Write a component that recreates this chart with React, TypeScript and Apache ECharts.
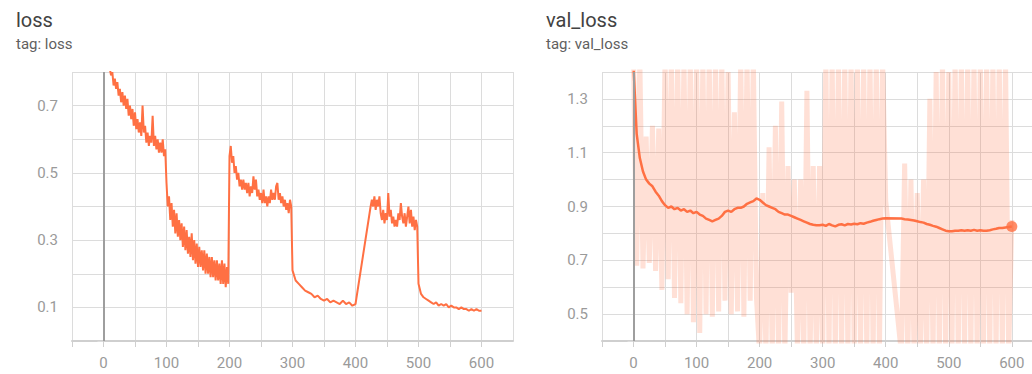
import React, { useEffect, useRef } from "react";
import * as echarts from "echarts";

// x positions (training steps) of each recorded segment
function range(start: number, end: number, step: number): number[] {
  const out: number[] = [];
  for (let s = start; s <= end; s += step) out.push(s);
  return out;
}

const lossSteps: number[] = [
  ...range(0, 98, 2),
  ...range(100, 198, 2),
  ...range(200, 298, 2),
  ...range(300, 400, 5),
  ...range(424, 498, 2),
  ...range(500, 600, 4),
];

const lossValues: number[] = [
  // 0-98
  0.96,0.93,0.90,0.88,0.84,0.81,0.79,0.80,0.76,0.78,0.75,0.77,0.73,0.75,0.71,0.74,0.70,0.73,0.69,0.72,
  0.67,0.70,0.66,0.69,0.64,0.68,0.63,0.66,0.62,0.65,0.61,0.70,0.62,0.64,0.59,0.62,0.58,0.61,0.59,0.67,
  0.58,0.61,0.57,0.60,0.56,0.59,0.56,0.60,0.55,0.57,
  // 100-198
  0.47,0.40,0.43,0.36,0.41,0.34,0.39,0.32,0.38,0.31,0.36,0.30,0.35,0.28,0.34,0.27,0.33,0.26,0.31,0.25,
  0.32,0.24,0.30,0.23,0.29,0.22,0.28,0.22,0.27,0.21,0.27,0.20,0.26,0.20,0.25,0.19,0.25,0.19,0.24,0.18,
  0.24,0.18,0.23,0.17,0.24,0.17,0.23,0.16,0.22,0.17,
  // 200-298
  0.55,0.58,0.53,0.55,0.50,0.52,0.48,0.50,0.46,0.48,0.45,0.48,0.45,0.47,0.44,0.47,0.43,0.46,0.44,0.49,
  0.45,0.48,0.43,0.45,0.42,0.44,0.41,0.45,0.41,0.43,0.40,0.43,0.41,0.45,0.42,0.44,0.42,0.46,0.47,0.42,
  0.44,0.41,0.43,0.40,0.42,0.39,0.41,0.38,0.42,0.40,
  // 300-400
  0.21,0.18,0.17,0.16,0.15,0.145,0.14,0.13,0.135,0.125,0.12,0.125,0.115,0.12,0.115,0.11,0.12,0.11,0.115,0.105,0.11,
  // 424-498
  0.40,0.42,0.40,0.43,0.39,0.42,0.40,0.43,0.38,0.36,0.39,0.35,0.38,0.36,0.44,0.37,0.39,0.35,0.37,0.34,
  0.36,0.34,0.38,0.36,0.41,0.37,0.35,0.38,0.34,0.37,0.40,0.35,0.39,0.34,0.37,0.33,0.36,0.34,
  // 500-600
  0.17,0.14,0.13,0.125,0.12,0.115,0.11,0.115,0.105,0.11,0.105,0.11,0.10,0.105,0.10,0.10,0.095,0.10,0.095,0.095,
  0.09,0.095,0.09,0.095,0.09,0.09
];

const valSteps: number[] = [...range(0, 400, 5), ...range(425, 600, 5)];

const valLossRaw: number[] = [
  // 0-195
  1.45,0.68,1.45,0.67,1.16,0.69,1.20,0.66,1.19,0.59,1.45,0.63,1.45,0.56,1.45,0.54,1.45,0.50,1.45,0.47,
  1.45,0.43,1.45,0.50,1.45,0.49,1.45,0.51,1.45,0.55,1.40,0.50,1.25,0.51,1.45,0.49,1.45,0.55,1.45,0.56,
  // 200-400
  0.35,0.95,0.35,1.12,0.35,1.20,0.35,1.29,0.35,1.05,0.58,1.00,0.35,1.00,0.35,1.33,0.35,1.05,0.35,1.05,
  0.35,1.45,0.35,1.45,0.35,1.45,0.35,1.45,0.35,1.45,0.35,1.45,0.35,1.45,0.35,1.45,0.35,1.45,0.35,1.45,0.92,
  // 425-600
  0.35,1.06,0.35,1.00,0.35,0.95,0.35,1.00,0.35,1.30,0.35,1.40,0.35,1.45,0.35,1.40,0.35,1.45,0.35,1.45,
  0.35,1.45,0.35,1.45,0.35,1.45,0.35,1.45,0.35,1.45,0.35,1.45,0.35,1.45,0.35,0.85
];

const valLossSmoothed: number[] = [
  1.42,1.17,1.08,1.03,1.00,0.985,0.975,0.955,0.94,0.92,0.905,0.895,0.90,0.89,0.895,0.885,0.89,0.88,0.885,0.875,
  0.88,0.87,0.865,0.855,0.85,0.845,0.85,0.855,0.865,0.88,0.885,0.88,0.89,0.895,0.895,0.90,0.91,0.915,0.92,0.93,
  0.925,0.915,0.905,0.90,0.895,0.89,0.88,0.875,0.87,0.87,0.865,0.86,0.855,0.85,0.845,0.84,0.835,0.832,0.83,0.83,
  0.832,0.828,0.835,0.83,0.826,0.832,0.834,0.83,0.835,0.833,0.836,0.834,0.838,0.836,0.84,0.843,0.847,0.85,0.853,0.855,0.856,
  0.855,0.853,0.852,0.85,0.848,0.845,0.842,0.84,0.835,0.832,0.828,0.825,0.82,0.815,0.81,
  0.808,0.808,0.81,0.81,0.812,0.81,0.812,0.81,0.813,0.81,0.812,0.81,0.81,0.812,0.815,0.817,0.82,0.82,0.822,0.824,0.826
];

const xTickLabels: number[] = [0, 100, 200, 300, 400, 500, 600];

const ORANGE = "#ff7043";
const GRID = "#dcdcdc";
const LABEL = "#9a9a9a";

function pairs(xs: number[], ys: number[]): number[][] {
  return xs.map((x, i) => [x, ys[i]]);
}

function xAxisFor(gridIndex: number, max: number) {
  return {
    type: "value",
    gridIndex,
    min: -50,
    max,
    interval: 50,
    axisLine: { show: true, onZero: false, lineStyle: { color: "#cfcfcf", width: 2 } },
    axisTick: { show: true, length: 6, lineStyle: { color: "#cfcfcf", width: 1 } },
    splitLine: { show: true, lineStyle: { color: GRID, width: 1 } },
    axisLabel: {
      color: LABEL,
      fontSize: 15,
      fontFamily: "Roboto",
      margin: 14,
      showMaxLabel: false,
      formatter: (v: number) => (xTickLabels.indexOf(Math.round(v)) >= 0 ? String(Math.round(v)) : ""),
    },
  };
}

function yAxisFor(gridIndex: number, min: number, max: number) {
  return {
    type: "value",
    gridIndex,
    min,
    max,
    interval: 0.1,
    axisLine: { show: false },
    axisTick: { show: true, length: 6, lineStyle: { color: GRID, width: 1 } },
    splitLine: { show: true, lineStyle: { color: GRID, width: 1 } },
    axisLabel: {
      color: LABEL,
      fontSize: 15,
      fontFamily: "Roboto",
      margin: 14,
      formatter: (v: number) => (Math.round(v * 10) % 2 === 1 ? v.toFixed(1) : ""),
    },
  };
}

const zeroLine = {
  silent: true,
  symbol: ["none", "none"],
  label: { show: false },
  lineStyle: { color: "#9e9e9e", width: 2, type: "solid" },
  data: [{ xAxis: 0 }],
};

export default function App() {
  const ref = useRef<HTMLDivElement>(null);
  useEffect(() => {
    if (!ref.current) return;
    const chart = echarts.init(ref.current, undefined, { renderer: "svg" });
    const valLast = valLossSmoothed.length - 1;
    chart.setOption({
      animation: false,
      backgroundColor: "#ffffff",
      title: [
        {
          text: "loss",
          subtext: "tag: loss",
          left: 11,
          top: 5,
          itemGap: 6,
          textStyle: { fontSize: 20, fontWeight: "normal", color: "#424242", fontFamily: "Roboto" },
          subtextStyle: { fontSize: 15, color: "#5f5f5f", fontFamily: "Roboto" },
        },
        {
          text: "val_loss",
          subtext: "tag: val_loss",
          left: 541,
          top: 5,
          itemGap: 6,
          textStyle: { fontSize: 20, fontWeight: "normal", color: "#424242", fontFamily: "Roboto" },
          subtextStyle: { fontSize: 15, color: "#5f5f5f", fontFamily: "Roboto" },
        },
      ],
      grid: [
        { left: 72, top: 72, width: 441, height: 269 },
        { left: 602, top: 72, width: 430, height: 269 },
      ],
      xAxis: [xAxisFor(0, 650), xAxisFor(1, 632)],
      yAxis: [yAxisFor(0, 0, 0.8), yAxisFor(1, 0.4, 1.4)],
      series: [
        {
          type: "line",
          xAxisIndex: 0,
          yAxisIndex: 0,
          data: pairs(lossSteps, lossValues),
          showSymbol: false,
          clip: true,
          lineStyle: { color: ORANGE, width: 2 },
          markLine: zeroLine,
          z: 3,
        },
        {
          type: "line",
          xAxisIndex: 1,
          yAxisIndex: 1,
          data: pairs(valSteps, valLossRaw),
          showSymbol: false,
          clip: true,
          lineStyle: { color: ORANGE, width: 5, opacity: 0.22, join: "bevel" },
          markLine: zeroLine,
          z: 2,
        },
        {
          type: "line",
          xAxisIndex: 1,
          yAxisIndex: 1,
          data: pairs(valSteps, valLossSmoothed),
          showSymbol: false,
          clip: true,
          lineStyle: { color: ORANGE, width: 2.5 },
          z: 3,
        },
        {
          type: "scatter",
          xAxisIndex: 1,
          yAxisIndex: 1,
          data: [[valSteps[valLast], valLossSmoothed[valLast]]],
          symbolSize: 11,
          itemStyle: { color: ORANGE },
          z: 4,
        },
      ],
    });
    return () => chart.dispose();
  }, []);
  return (
    <div
      ref={ref}
      style={{ position: "fixed", left: 0, top: 0, width: 1032, height: 374 }}
    />
  );
}
